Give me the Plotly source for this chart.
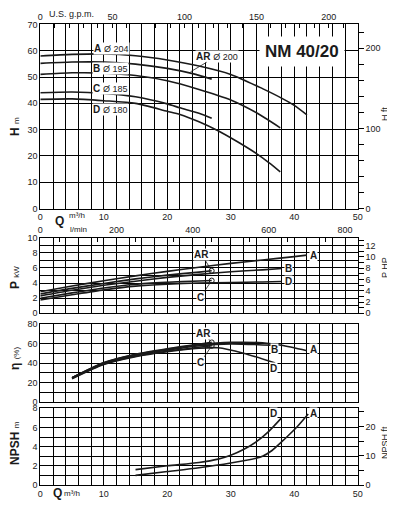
import numpy as np
import plotly.graph_objects as go

# page body adds an 8px margin; figure coordinates are reference pixels minus OFF
OFF = 8
W, HGT = 395 - OFF, 510 - OFF

# ---------------- data ----------------
# Head curves H (m) vs Q (m3/h)
qA_H = [0, 5, 10, 15, 20, 25, 30, 35, 38, 40, 42]
hA_H = [58.0, 58.6, 58.8, 58.1, 56.5, 54.2, 51.0, 45.6, 42.0, 39.2, 35.6]
qAR_H = [0, 5, 10, 15, 20, 24, 27]
hAR_H = [55.2, 55.7, 55.7, 54.9, 53.3, 51.3, 49.2]
qB_H = [0, 5, 10, 15, 20, 25, 30, 34, 37.8]
hB_H = [51.0, 51.6, 51.5, 50.6, 48.6, 45.3, 41.3, 36.5, 30.7]
qC_H = [0, 5, 10, 15, 20, 22, 25, 27]
hC_H = [44.0, 44.3, 43.8, 42.5, 39.8, 38.3, 36.2, 34.3]
qD_H = [0, 5, 10, 15, 20, 22, 25, 28, 31, 34, 36, 37.8]
hD_H = [41.5, 41.7, 41.0, 40.0, 37.0, 35.8, 33.0, 29.6, 25.5, 21.0, 17.5, 14.0]

# Power curves P (kW)
qA_P = [0, 5, 10, 15, 20, 25, 30, 35, 40, 42]
pA_P = [2.85, 3.6, 4.3, 4.95, 5.55, 6.1, 6.6, 7.05, 7.5, 7.7]
qAR_P = [0, 5, 10, 15, 20, 25, 27]
pAR_P = [2.56, 3.3, 3.95, 4.55, 5.05, 5.45, 5.62]
qB_P = [0, 5, 10, 15, 20, 25, 30, 35, 38]
pB_P = [2.3, 3.05, 3.7, 4.25, 4.75, 5.15, 5.5, 5.75, 5.92]
qC_P = [0, 5, 10, 15, 20, 25, 27]
pC_P = [2.0, 2.7, 3.35, 3.85, 4.1, 4.28, 4.33]
qD_P = [0, 5, 10, 15, 20, 25, 30, 35, 38]
pD_P = [1.77, 2.45, 3.1, 3.6, 3.85, 4.0, 4.08, 4.15, 4.2]

# Efficiency curves (%)
qA_E = [5, 10, 15, 20, 25, 30, 35, 38, 42]
eA_E = [25, 40, 48.5, 54, 58.5, 61, 60.5, 58, 52.5]
qAR_E = [5, 10, 15, 20, 27]
eAR_E = [25, 40.5, 49, 54.5, 61]
qB_E = [5, 10, 15, 20, 25, 30, 36.5]
eB_E = [25, 39.5, 48, 53, 57.5, 59.5, 58]
qC_E = [5, 10, 15, 20, 27]
eC_E = [24.5, 39, 47, 52, 57.5]
qD_E = [5, 10, 15, 20, 25, 28, 32, 37]
eD_E = [24, 38.5, 46.5, 51.5, 55, 55.5, 50, 40]

# NPSH curves (m)
qA_N = [15, 20, 25, 30, 34, 35, 36.5, 38.5, 40.5, 42.2]
nA_N = [1.0, 1.4, 1.8, 2.3, 2.8, 3.0, 3.6, 4.8, 6.1, 7.4]
qD_N = [15, 20, 25, 28, 30, 32, 34, 36, 38]
nD_N = [1.6, 2.0, 2.35, 2.7, 3.1, 3.7, 4.5, 5.6, 7.0]

# axis tick labels
q_ticks = [0, 10, 20, 30, 40, 50]
gpm_ticks = [0, 50, 100, 150, 200]
lmin_ticks = [0, 200, 400, 600, 800]
hft_ticks = [0, 100, 200]
php_ticks = [0, 2, 4, 6, 8, 10, 12]
nft_ticks = [0, 10, 20]

GPM = 0.227125  # m3/h per US gpm
FT = 0.3048
HP = 0.7457

# ---------------- layout helpers (args in reference pixels) ----------------
def px(p):
    return (p - OFF) / W

def py(p):
    return 1 - (p - OFF) / HGT

XD = [px(40.3), px(357.7)]
DOM_H = [py(208.6), py(24.4)]
DOM_P = [py(313.3), py(237.7)]
DOM_E = [py(402.3), py(323.7)]
DOM_N = [py(485.0), py(408.3)]

FONT = "Liberation Sans, Arial, Helvetica, sans-serif"
INK = "#1a1a1a"

fig = go.Figure()

LINE = dict(color=INK, width=1.6, shape="spline", smoothing=0.7)

def curve(q, v, xa, ya):
    fig.add_trace(go.Scatter(x=q, y=v, mode="lines", line=LINE,
                             xaxis=xa, yaxis=ya, hoverinfo="skip"))

for q, v in [(qA_H, hA_H), (qAR_H, hAR_H), (qB_H, hB_H), (qC_H, hC_H), (qD_H, hD_H)]:
    curve(q, v, "x", "y")
for q, v in [(qA_P, pA_P), (qAR_P, pAR_P), (qB_P, pB_P), (qC_P, pC_P), (qD_P, pD_P)]:
    curve(q, v, "x3", "y3")
for q, v in [(qA_E, eA_E), (qAR_E, eAR_E), (qB_E, eB_E), (qC_E, eC_E), (qD_E, eD_E)]:
    curve(q, v, "x5", "y5")
for q, v in [(qA_N, nA_N), (qD_N, nD_N)]:
    curve(q, v, "x6", "y6")

# end markers for AR and C
for q, v, xa, ya in [(qAR_P, pAR_P, "x3", "y3"), (qC_P, pC_P, "x3", "y3"),
                     (qAR_E, eAR_E, "x5", "y5"), (qC_E, eC_E, "x5", "y5")]:
    fig.add_trace(go.Scatter(x=[q[-1]], y=[v[-1]], mode="markers",
                             marker=dict(symbol="circle-open", size=5,
                                         color=INK, line=dict(width=1)),
                             xaxis=xa, yaxis=ya, hoverinfo="skip"))

# dummy traces so overlay axes exist
for xa, ya in [("x2", "y"), ("x", "y2"), ("x4", "y3"), ("x3", "y4"), ("x6", "y7")]:
    fig.add_trace(go.Scatter(x=[None], y=[None], xaxis=xa, yaxis=ya,
                             hoverinfo="skip"))

GRID = dict(showgrid=True, gridcolor="black", gridwidth=1, zeroline=False,
            showline=True, linecolor="black", linewidth=1, mirror=True,
            ticks="", automargin=False, tickfont=dict(size=9, color=INK))

def xmain(anchor, labels):
    return dict(GRID, domain=XD, anchor=anchor, range=[0, 50], tickmode="array",
                tickvals=q_ticks, ticktext=[str(t) for t in q_ticks],
                showticklabels=labels,
                minor=dict(tickmode="linear", tick0=0, dtick=2, showgrid=True,
                           gridcolor="black", gridwidth=1))

def ymain(anchor, dom, rng, major, minor):
    return dict(GRID, domain=dom, anchor=anchor, range=rng, tickmode="linear",
                tick0=0, dtick=major,
                minor=dict(tickmode="linear", tick0=0, dtick=minor, showgrid=True,
                           gridcolor="black", gridwidth=1))

SEC = dict(showgrid=False, zeroline=False, showline=True, linecolor="black",
           linewidth=1, automargin=False, tickfont=dict(size=9, color=INK),
           tickcolor="black")

fig.update_layout(
    template="none",
    width=W, height=HGT, margin=dict(l=0, r=0, t=0, b=0, pad=0),
    autosize=False,
    paper_bgcolor="white", plot_bgcolor="white", showlegend=False,
    font=dict(family=FONT, size=9, color=INK),
    xaxis=xmain("y", True),
    yaxis=ymain("x", DOM_H, [0, 70], 10, 10),
    xaxis2=dict(SEC, overlaying="x", anchor="y", side="top",
                range=[0, 50 / GPM], tickmode="array", tickvals=gpm_ticks,
                ticktext=[str(t) for t in gpm_ticks], ticks="inside", ticklen=4,
                minor=dict(tickmode="linear", tick0=0, dtick=10, ticks="inside",
                           ticklen=4, tickcolor="black")),
    yaxis2=dict(SEC, overlaying="y", anchor="x", side="right",
                range=[0, 70 / FT], tickmode="array", tickvals=hft_ticks,
                ticktext=[str(t) for t in hft_ticks], ticks="outside", ticklen=5,
                minor=dict(tickmode="linear", tick0=0, dtick=20, ticks="outside",
                           ticklen=5, tickcolor="black")),
    xaxis3=xmain("y3", False),
    yaxis3=ymain("x3", DOM_P, [0, 10], 2, 1),
    xaxis4=dict(SEC, overlaying="x3", anchor="y3", side="top",
                range=[0, 50 * 1000 / 60], tickmode="array", tickvals=lmin_ticks,
                ticktext=[str(t) for t in lmin_ticks], ticks="inside", ticklen=4,
                minor=dict(tickmode="linear", tick0=0, dtick=50, ticks="inside",
                           ticklen=4, tickcolor="black")),
    yaxis4=dict(SEC, overlaying="y3", anchor="x3", side="right",
                range=[0, 10 / HP], tickmode="array", tickvals=php_ticks,
                ticktext=[str(t) for t in php_ticks], ticks="outside", ticklen=5,
                minor=dict(tickmode="linear", tick0=0, dtick=1, ticks="outside",
                           ticklen=5, tickcolor="black")),
    xaxis5=xmain("y5", False),
    yaxis5=ymain("x5", DOM_E, [0, 80], 20, 10),
    xaxis6=xmain("y6", True),
    yaxis6=ymain("x6", DOM_N, [0, 8], 2, 1),
    yaxis7=dict(SEC, overlaying="y6", anchor="x6", side="right",
                range=[0, 8 / FT], tickmode="array", tickvals=nft_ticks,
                ticktext=[str(t) for t in nft_ticks], ticks="outside", ticklen=5,
                minor=dict(tickmode="linear", tick0=0, dtick=5, ticks="outside",
                           ticklen=5, tickcolor="black")),
)

ann = []

def lab(text, x, y, xref, yref, size=10, xanchor="center", bg="white"):
    ann.append(dict(text=text, x=x, y=y, xref=xref, yref=yref, showarrow=False,
                    xanchor=xanchor, yanchor="middle", bgcolor=bg, borderpad=0,
                    font=dict(size=size, color=INK, family=FONT)))

def leader(text, head_x, head_y, tx, ty, xref, yref):
    ann.append(dict(text=text, x=head_x, y=head_y, xref=xref, yref=yref,
                    ax=tx, ay=ty, axref=xref, ayref=yref, showarrow=True,
                    arrowhead=0, arrowwidth=0.8, arrowcolor=INK, standoff=2,
                    xanchor="center", yanchor="middle",
                    bgcolor="white", borderpad=0,
                    font=dict(size=10, color=INK, family=FONT)))

# H panel labels
lab("<b>A</b> <span style='font-size:9px'>Ø 204</span>", 8.25, 61.0, "x", "y", xanchor="left")
lab("<b>B</b> <span style='font-size:9px'>Ø 195</span>", 8.1, 53.3, "x", "y", xanchor="left")
lab("<b>C</b> <span style='font-size:9px'>Ø 185</span>", 8.1, 45.5, "x", "y", xanchor="left")
lab("<b>D</b> <span style='font-size:9px'>Ø 180</span>", 8.1, 37.7, "x", "y", xanchor="left")
leader("<b>AR</b> <span style='font-size:9px'>Ø 200</span>",
       23.4, float(np.interp(23.4, qAR_H, hAR_H)), 27.8, 57.9, "x", "y")

# title box
ann.append(dict(text="<b>NM 40/20</b>", x=px(302), y=py(51), xref="paper",
                yref="paper", showarrow=False, xanchor="center", yanchor="middle",
                bgcolor="white", borderpad=5,
                font=dict(size=17, color=INK, family=FONT)))

# P panel labels
lab("<b>A</b>", 43.0, 7.7, "x3", "y3")
lab("<b>B</b>", 39.1, 5.97, "x3", "y3")
lab("<b>D</b>", 39.1, 4.2, "x3", "y3")
leader("<b>AR</b>", qAR_P[-1], pAR_P[-1], 25.4, 7.8, "x3", "y3")
leader("<b>C</b>", qC_P[-1], pC_P[-1], 25.2, 2.1, "x3", "y3")

# efficiency labels
lab("<b>A</b>", 43.0, 54.2, "x5", "y5")
lab("<b>B</b>", 36.9, 53.9, "x5", "y5")
lab("<b>D</b>", 36.7, 34.6, "x5", "y5")
leader("<b>AR</b>", qAR_E[-1], eAR_E[-1], 25.7, 70.2, "x5", "y5")
leader("<b>C</b>", qC_E[-1], eC_E[-1], 25.2, 40.3, "x5", "y5")

# NPSH labels
lab("<b>D</b>", 36.7, 7.48, "x6", "y6")
lab("<b>A</b>", 43.0, 7.48, "x6", "y6")

# axis titles (positions in reference pixels)
def title(text, xr, yr, angle=-90, size=11):
    ann.append(dict(text=text, x=px(xr), y=py(yr), xref="paper", yref="paper",
                    showarrow=False, textangle=angle, xanchor="center",
                    yanchor="middle",
                    font=dict(size=size, color=INK, family=FONT)))

title("<b>H</b> <span style='font-size:8px'>m</span>", 15, 126, size=12)
title("<b>P</b> <span style='font-size:8px'>kW</span>", 15, 277, size=12)
title("<b>η</b> <span style='font-size:8px'>(%)</span>", 15, 358, size=12)
title("<b>NPSH</b> <span style='font-size:8px'>m</span>", 15, 443, size=12)
title("H ft", 385, 114, size=9)
title("P HP", 385, 268, size=9)
title("NPSH ft", 385, 443, size=9)

# top / bottom axis captions
title("U.S. g.p.m.", 71, 14, angle=0, size=9)
title("<b>Q</b>", 59, 221, angle=0, size=12)
title("m³/h", 77, 215.5, angle=0, size=8)
title("l/min", 78, 229.5, angle=0, size=8)
title("<b>Q</b>", 58, 493, angle=0, size=12)
title("m³/h", 72, 493, angle=0, size=8)

fig.update_layout(annotations=ann)
fig.write_html("out.html")
